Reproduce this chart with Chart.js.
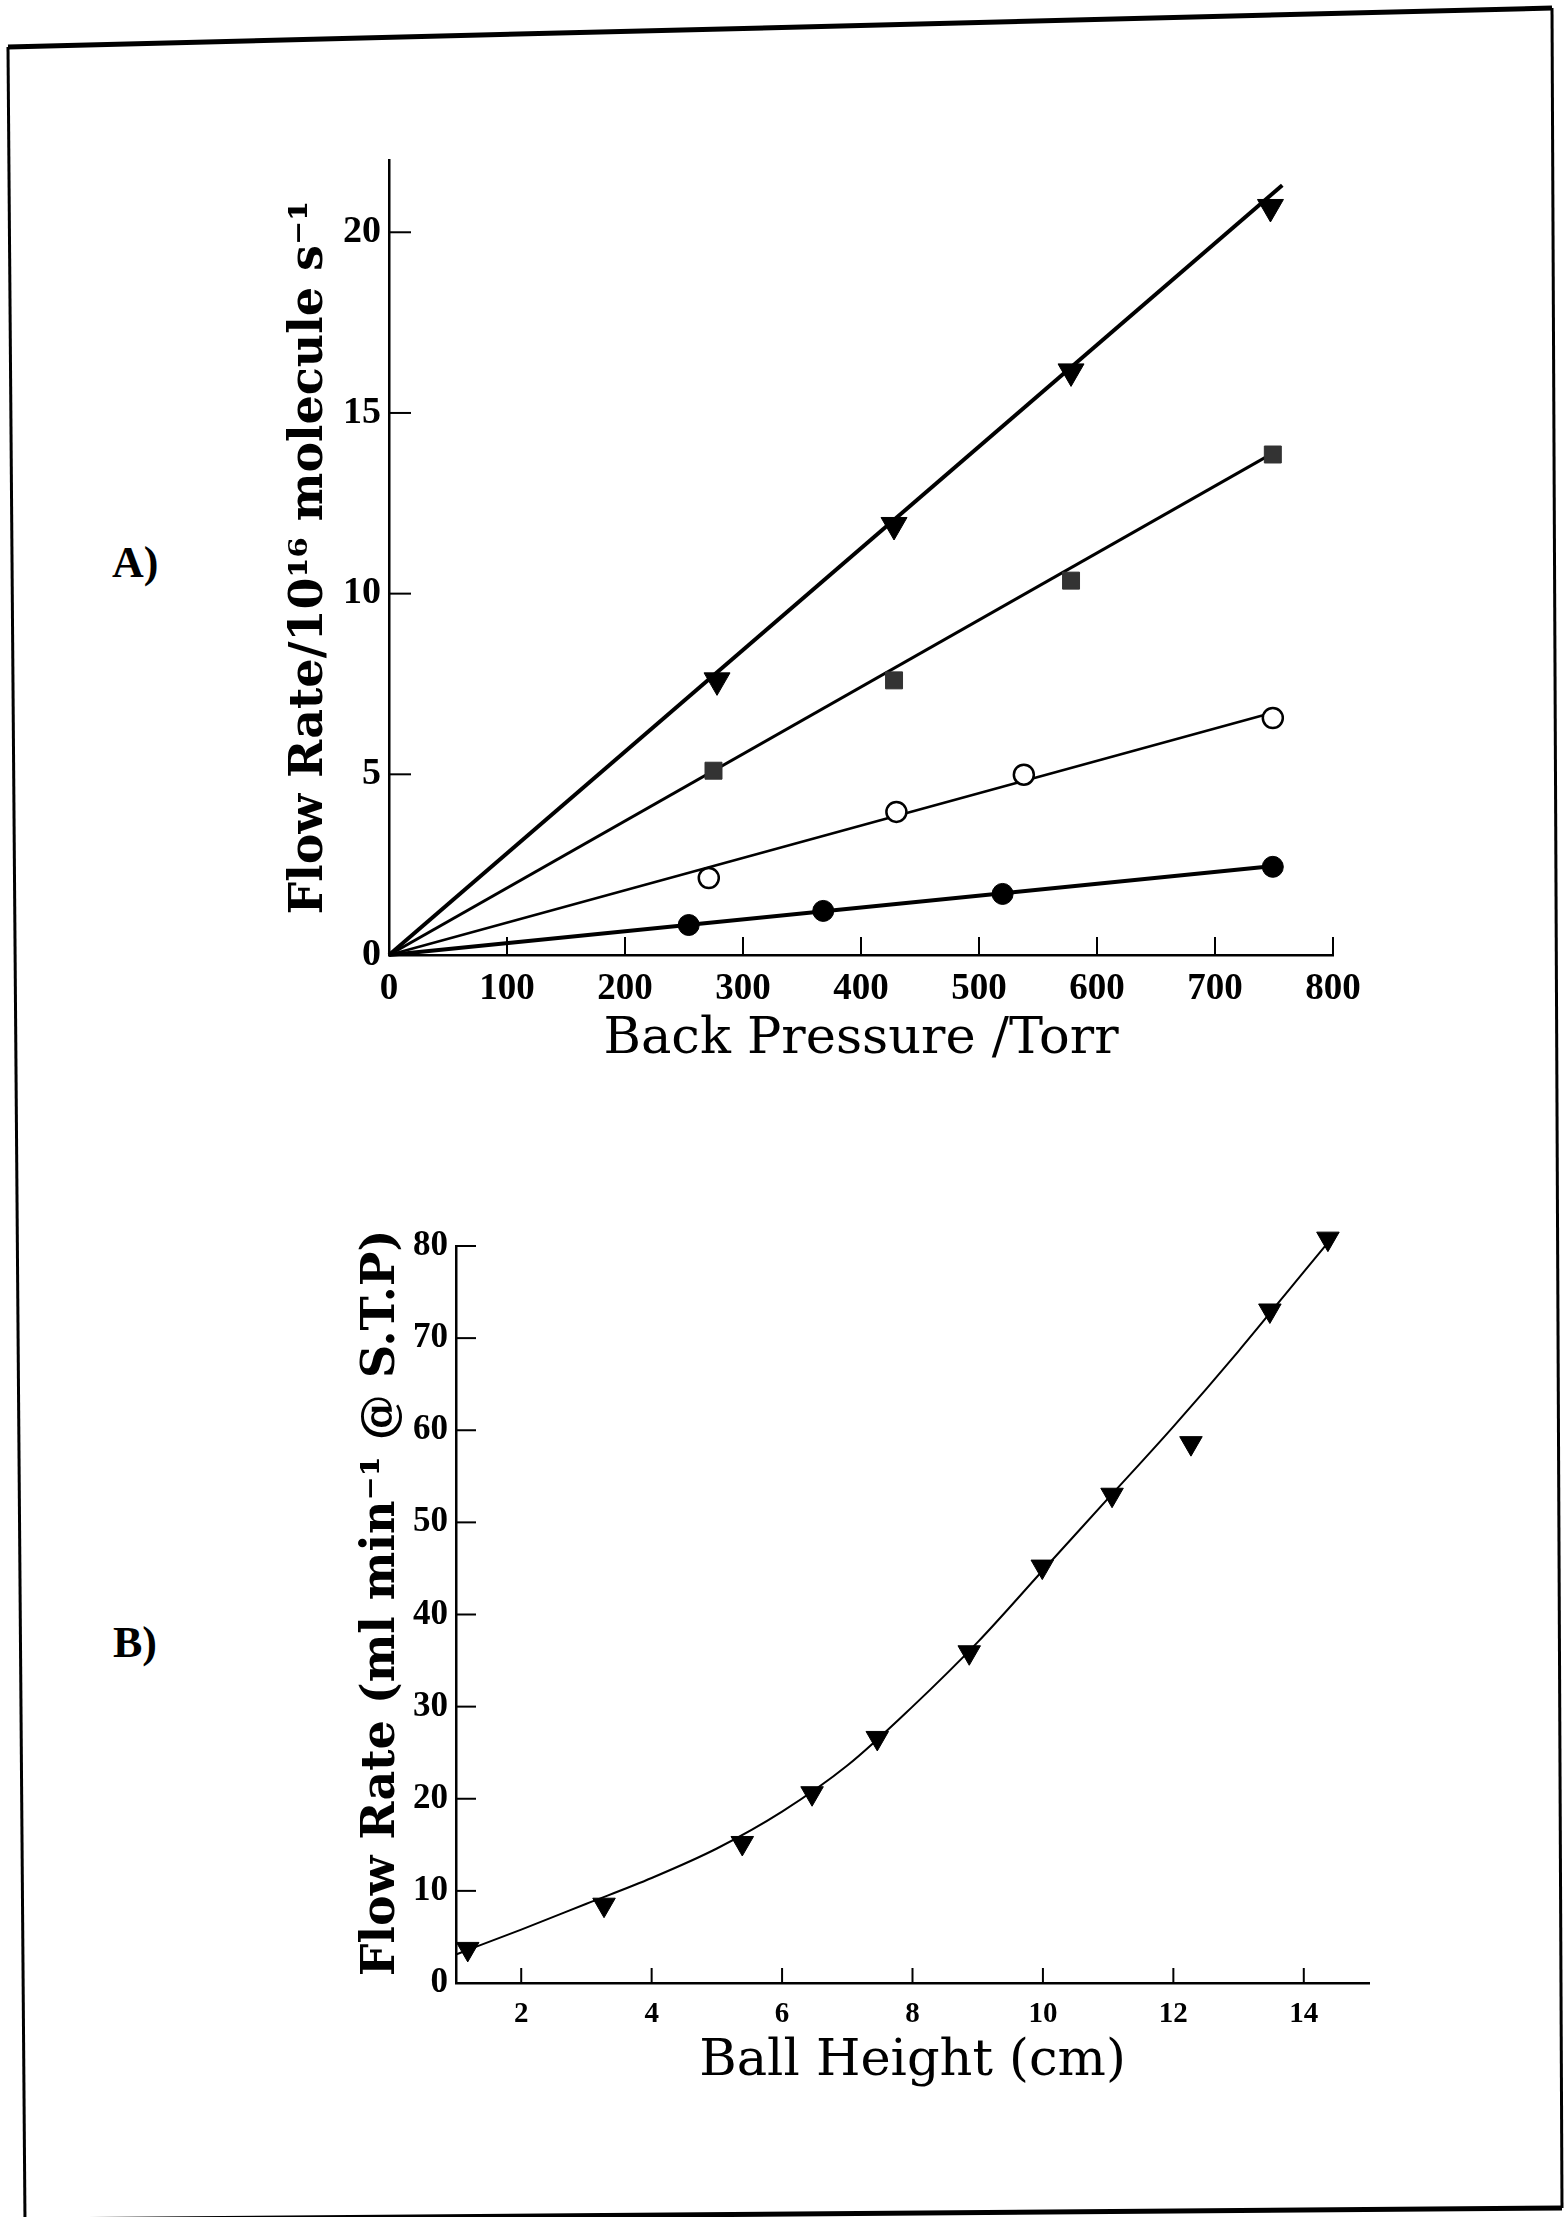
<!DOCTYPE html>
<html>
<head>
<meta charset="utf-8">
<script src="https://cdn.jsdelivr.net/npm/chart.js@4.4.1/dist/chart.umd.min.js"></script>
<style>
html,body{margin:0;padding:0;background:#fff;}
body{width:1567px;height:2217px;position:relative;overflow:hidden;}
canvas{position:absolute;left:0;}
#chartA{top:100px;}
#chartB{top:1150px;}
svg{position:absolute;left:0;top:0;}
</style>
</head>
<body>
<svg width="1567" height="2217" xmlns="http://www.w3.org/2000/svg">
  <line x1="8" y1="47" x2="1552" y2="8" stroke="#000" stroke-width="5"/>
  <line x1="8" y1="47" x2="25" y2="2222" stroke="#000" stroke-width="3"/>
  <line x1="1552" y1="8" x2="1562" y2="2208" stroke="#000" stroke-width="3"/>
  <line x1="25" y1="2220" x2="1562" y2="2208" stroke="#000" stroke-width="5"/>
  <text x="112" y="577" font-family="Liberation Serif" font-weight="bold" font-size="44">A)</text>
  <text x="113" y="1657" font-family="Liberation Serif" font-weight="bold" font-size="44">B)</text>
</svg>
<canvas id="chartA" width="1450" height="1000"></canvas>
<canvas id="chartB" width="1450" height="1000"></canvas>
<script>
// ---------- Panel A data ----------
const xTicksA = [0, 100, 200, 300, 400, 500, 600, 700, 800];
const yTicksA = [0, 5, 10, 15, 20];
const triAX = [278, 428, 578, 747];
const triAY = [7.6, 11.9, 16.15, 20.7];
const sqAX = [275, 428, 578, 749];
const sqAY = [5.1, 7.6, 10.36, 13.85];
const openAX = [271, 430, 538, 749];
const openAY = [2.13, 3.96, 4.99, 6.56];
const fillAX = [254, 368, 520, 749];
const fillAY = [0.83, 1.22, 1.69, 2.44];
const fitTriX = [0, 757];
const fitTriY = [0, 21.3];
const fitSqX = [0, 755];
const fitSqY = [0, 14.0];
const fitOpenX = [0, 754];
const fitOpenY = [0, 6.75];
const fitFillX = [0, 752];
const fitFillY = [0, 2.47];

// ---------- Panel B data ----------
const xTicksB = [2, 4, 6, 8, 10, 12, 14];
const yTicksB = [0, 10, 20, 30, 40, 50, 60, 70, 80];
const ballX = [1.18, 3.27, 5.39, 6.46, 7.46, 8.87, 9.99, 11.06, 12.27, 13.48, 14.37];
const ballY = [3.7, 8.5, 15.2, 20.6, 26.6, 35.9, 45.2, 53.0, 58.6, 73.0, 80.8];
const curveBX = [1.0, 2, 3, 4, 5, 6, 7, 8, 9, 10, 11, 12, 13, 14, 14.48];
const curveBY = [3.1, 5.8, 8.6, 11.4, 14.6, 18.6, 23.6, 30.0, 37.0, 44.8, 52.6, 60.4, 68.6, 77.2, 81.3];

const pts = (xs, ys) => xs.map((x, i) => ({x: x, y: ys[i]}));

const inwardTicks = {
  id: 'inwardTicks',
  afterDatasetsDraw(chart, args, o) {
    const ctx = chart.ctx;
    const {top, bottom, left} = chart.chartArea;
    const xs = chart.scales.x, ys = chart.scales.y;
    ctx.save();
    ctx.strokeStyle = '#000';
    ctx.lineWidth = 2;
    xs.ticks.forEach(t => {
      if (t.value === xs.min) return;
      const px = xs.getPixelForValue(t.value);
      ctx.beginPath(); ctx.moveTo(px, bottom); ctx.lineTo(px, bottom - o.xLen); ctx.stroke();
    });
    ys.ticks.forEach(t => {
      if (t.value === ys.min) return;
      const py = ys.getPixelForValue(t.value);
      ctx.beginPath(); ctx.moveTo(left, py); ctx.lineTo(left + o.yLen, py); ctx.stroke();
    });
    ctx.restore();
  }
};

const FONT = 'DejaVu Serif';
const TICKFONT = 'Liberation Serif';
const common = (o) => ({
  responsive: false,
  animation: false,
  events: [],
  layout: {padding: o.pad},
  plugins: {legend: {display: false}, tooltip: {enabled: false}, inwardTicks: {xLen: o.xLen, yLen: o.yLen}},
  scales: {
    x: {
      type: 'linear', min: o.xMin, max: o.xMax,
      afterBuildTicks: s => { s.ticks = o.xTicks.map(v => ({value: v})); },
      afterFit: s => { s.height = o.xH; },
      grid: {display: false, drawTicks: false},
      border: {display: true, color: '#000', width: 2.5},
      ticks: {padding: o.xPad, color: '#000', autoSkip: false, maxRotation: 0, font: {family: TICKFONT, weight: 'bold', size: o.xFs}},
      title: {display: true, text: o.xTitle, color: '#000', font: {family: FONT, size: 51}, padding: {top: 0, bottom: o.xTitlePad}}
    },
    y: {
      type: 'linear', min: o.yMin, max: o.yMax,
      afterBuildTicks: s => { s.ticks = o.yTicks.map(v => ({value: v})); },
      afterFit: s => { s.width = o.yW; },
      grid: {display: false, drawTicks: false},
      border: {display: true, color: '#000', width: 2.5},
      ticks: {padding: 8, color: '#000', autoSkip: false, font: {family: TICKFONT, weight: 'bold', size: o.yFs}},
      title: {display: true, text: o.yTitle, color: '#000', font: {family: FONT, weight: 'bold', size: 46}, padding: {top: o.yTitlePad, bottom: 0}}
    }
  }
});

const mark = (data, extra) => Object.assign({data: data, showLine: false, clip: false, borderColor: '#000', backgroundColor: '#000', borderWidth: 1}, extra);
const fit = (data, w, extra) => Object.assign({data: data, showLine: true, clip: false, pointRadius: 0, borderColor: '#000', borderWidth: w, fill: false}, extra || {});

new Chart(document.getElementById('chartA'), {
  type: 'scatter',
  data: {datasets: [
    mark(pts(triAX, triAY), {pointStyle: 'triangle', rotation: 180, radius: 15}),
    mark(pts(sqAX, sqAY), {pointStyle: 'rect', radius: 12, backgroundColor: '#333', borderColor: '#333'}),
    mark(pts(openAX, openAY), {pointStyle: 'circle', radius: 10, backgroundColor: '#fff', borderWidth: 2.5}),
    mark(pts(fillAX, fillAY), {pointStyle: 'circle', radius: 10.5}),
    fit(pts(fitTriX, fitTriY), 4),
    fit(pts(fitSqX, fitSqY), 3),
    fit(pts(fitOpenX, fitOpenY), 2.5),
    fit(pts(fitFillX, fitFillY), 4)
  ]},
  options: common({
    pad: {top: 60, right: 117, left: 0, bottom: 0},
    xMin: 0, xMax: 800, yMin: 0, yMax: 22,
    xTicks: xTicksA, yTicks: yTicksA,
    xH: 145, yW: 389, xPad: 12, xFs: 37, yFs: 38,
    xLen: 18, yLen: 22,
    xTitle: 'Back Pressure /Torr', xTitlePad: 30,
    yTitle: 'Flow Rate/10\u00B9\u2076 molecule s\u207B\u00B9', yTitlePad: 282
  }),
  plugins: [inwardTicks]
});

new Chart(document.getElementById('chartB'), {
  type: 'scatter',
  data: {datasets: [
    mark(pts(ballX, ballY), {pointStyle: 'triangle', rotation: 180, radius: 13}),
    fit(pts(curveBX, curveBY), 2, {cubicInterpolationMode: 'monotone'})
  ]},
  options: common({
    pad: {top: 96, right: 81, left: 0, bottom: 0},
    xMin: 1, xMax: 15, yMin: 0, yMax: 80,
    xTicks: xTicksB, yTicks: yTicksB,
    xH: 167, yW: 456, xPad: 14, xFs: 29, yFs: 35,
    xLen: 15, yLen: 20,
    xTitle: 'Ball Height (cm)', xTitlePad: 58,
    yTitle: '\u2002Flow Rate (ml min\u207B\u00B9 @ S.T.P)', yTitlePad: 354
  }),
  plugins: [inwardTicks]
});
</script>
</body>
</html>
